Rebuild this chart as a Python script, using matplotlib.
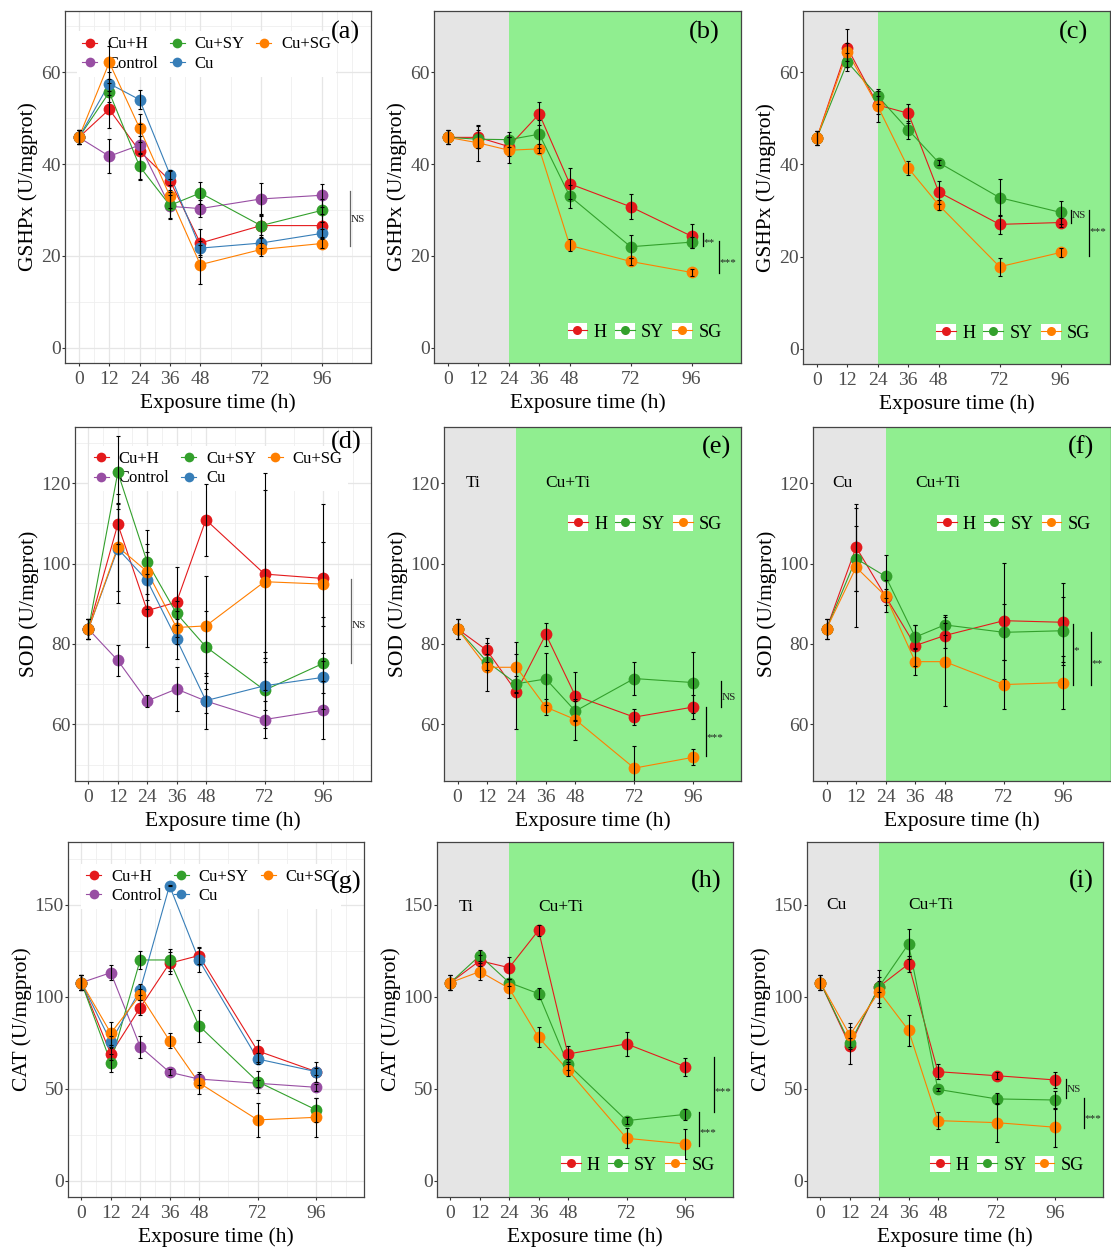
import matplotlib
matplotlib.use('Agg')
import matplotlib.pyplot as plt
from matplotlib.legend_handler import HandlerLine2D
from matplotlib.lines import Line2D
from matplotlib.patches import Rectangle

plt.rcParams['font.family'] = ['Liberation Serif', 'DejaVu Serif']

hours = [0, 12, 24, 36, 48, 72, 96]
xticks = [0, 12, 24, 36, 48, 72, 96]
xminor = [6, 18, 30, 42, 60, 84, 102, 108]

colors = {'Cu+H': '#E41A1C', 'Cu+SY': '#33A02C', 'Cu+SG': '#FF7F00',
          'Control': '#984EA3', 'Cu': '#377EB8',
          'H': '#E41A1C', 'SY': '#33A02C', 'SG': '#FF7F00'}
five_groups = ['Cu+H', 'Control', 'Cu+SY', 'Cu', 'Cu+SG']
three_groups = ['H', 'SY', 'SG']

# ---- GSHPx ----
gshpx_a_mean = {
    'Cu+H':    [45.8, 51.9, 42.8, 36.4, 22.8, 26.6, 26.6],
    'Cu+SY':   [45.8, 55.6, 39.5, 31.0, 33.7, 26.6, 29.9],
    'Cu+SG':   [45.8, 62.1, 47.8, 33.0, 18.1, 21.4, 22.7],
    'Control': [45.8, 41.7, 44.1, 30.8, 30.3, 32.4, 33.2],
    'Cu':      [45.8, 57.5, 54.0, 37.7, 21.7, 22.8, 24.9],
}
gshpx_a_err = {
    'Cu+H':    [1.5, 4.0, 6.0, 2.0, 3.0, 2.5, 2.5],
    'Cu+SY':   [1.5, 2.0, 3.0, 3.0, 2.4, 2.0, 2.5],
    'Cu+SG':   [1.5, 3.5, 3.0, 2.5, 4.3, 1.5, 1.0],
    'Control': [1.5, 3.7, 2.0, 2.5, 1.8, 3.5, 2.5],
    'Cu':      [1.5, 2.5, 2.0, 1.0, 1.5, 1.0, 1.0],
}
gshpx_b_mean = {
    'H':  [45.8, 45.8, 43.8, 50.9, 35.7, 30.7, 24.3],
    'SY': [45.8, 45.4, 45.3, 46.5, 33.0, 22.0, 23.0],
    'SG': [45.8, 44.6, 43.0, 43.3, 22.3, 18.8, 16.4],
}
gshpx_b_err = {
    'H':  [1.5, 2.4, 2.0, 2.5, 3.4, 2.7, 2.6],
    'SY': [1.5, 2.0, 1.7, 3.0, 2.5, 2.5, 1.2],
    'SG': [1.5, 4.0, 2.8, 1.0, 1.3, 0.8, 0.7],
}
gshpx_c_mean = {
    'H':  [45.8, 65.3, 52.9, 51.1, 34.0, 27.0, 27.4],
    'SY': [45.8, 62.2, 54.8, 47.5, 40.4, 32.8, 29.6],
    'SG': [45.8, 64.4, 52.6, 39.2, 31.2, 17.8, 20.9],
}
gshpx_c_err = {
    'H':  [1.5, 4.1, 2.0, 2.0, 2.5, 2.0, 1.0],
    'SY': [1.5, 2.0, 1.6, 2.0, 0.5, 4.0, 2.5],
    'SG': [1.5, 2.0, 3.3, 1.5, 1.0, 2.0, 1.0],
}

# ---- SOD ----
sod_d_mean = {
    'Cu+H':    [83.7, 109.8, 88.3, 90.4, 110.9, 97.4, 96.3],
    'Cu+SY':   [83.7, 122.7, 100.4, 87.6, 79.3, 68.5, 75.2],
    'Cu+SG':   [83.7, 104.2, 98.0, 84.1, 84.5, 95.5, 94.9],
    'Control': [83.7, 75.9, 65.8, 68.8, 65.8, 61.2, 63.5],
    'Cu':      [83.7, 103.7, 95.8, 81.2, 65.9, 69.6, 71.7],
}
sod_d_err = {
    'Cu+H':    [2.5, 5.0, 9.0, 8.7, 9.0, 21.0, 18.5],
    'Cu+SY':   [2.5, 9.0, 8.0, 3.0, 9.0, 9.5, 11.5],
    'Cu+SG':   [2.5, 11.0, 7.0, 4.0, 12.5, 27.0, 10.5],
    'Control': [2.5, 3.8, 1.5, 5.5, 3.0, 4.7, 7.2],
    'Cu':      [2.5, 13.6, 7.0, 5.0, 7.0, 6.0, 4.0],
}
sod_e_mean = {
    'H':  [83.75, 78.4, 68.1, 82.4, 67.1, 61.8, 64.3],
    'SY': [83.75, 75.6, 70.1, 71.3, 63.3, 71.4, 70.4],
    'SG': [83.75, 74.2, 74.2, 64.3, 61.2, 49.1, 51.8],
}
sod_e_err = {
    'H':  [2.5, 3.0, 9.3, 2.8, 6.0, 2.0, 3.0],
    'SY': [2.5, 2.0, 2.0, 6.5, 2.5, 4.0, 7.5],
    'SG': [2.5, 6.0, 6.4, 2.0, 5.0, 5.5, 2.0],
}
sod_f_mean = {
    'H':  [83.75, 104.1, 91.8, 79.6, 82.1, 85.8, 85.4],
    'SY': [83.75, 101.25, 96.8, 81.7, 84.75, 82.9, 83.3],
    'SG': [83.75, 99.1, 91.9, 75.6, 75.6, 69.9, 70.4],
}
sod_f_err = {
    'H':  [2.5, 10.8, 2.0, 5.0, 3.0, 14.4, 9.9],
    'SY': [2.5, 8.0, 5.3, 3.0, 2.5, 7.0, 8.5],
    'SG': [2.5, 14.8, 4.0, 3.3, 11.0, 6.2, 6.5],
}

# ---- CAT ----
cat_g_mean = {
    'Cu+H':    [107.8, 69.0, 94.2, 118.3, 122.5, 70.7, 59.4],
    'Cu+SY':   [107.8, 64.3, 120.1, 120.1, 84.4, 54.0, 38.6],
    'Cu+SG':   [107.8, 80.3, 101.1, 76.3, 53.4, 33.2, 34.6],
    'Control': [107.8, 113.2, 73.0, 59.1, 55.4, 53.1, 50.9],
    'Cu':      [107.8, 75.7, 103.8, 160.5, 120.1, 66.3, 59.4],
}
cat_g_err = {
    'Cu+H':    [4.0, 3.0, 4.0, 6.0, 4.8, 5.9, 5.5],
    'Cu+SY':   [4.0, 4.9, 5.0, 6.0, 8.7, 6.0, 6.5],
    'Cu+SG':   [4.0, 6.3, 3.0, 4.0, 6.0, 9.1, 10.5],
    'Control': [4.0, 4.0, 6.0, 1.5, 3.0, 2.0, 2.0],
    'Cu':      [4.0, 3.0, 3.0, 0.3, 6.5, 3.0, 2.0],
}
cat_h_mean = {
    'H':  [107.8, 119.7, 115.9, 136.2, 69.0, 74.5, 62.1],
    'SY': [107.8, 122.5, 107.8, 101.8, 63.4, 32.8, 36.2],
    'SG': [107.8, 113.8, 104.7, 78.1, 60.3, 23.2, 20.1],
}
cat_h_err = {
    'H':  [4.0, 3.0, 6.0, 3.0, 4.5, 6.5, 5.0],
    'SY': [4.0, 3.0, 2.0, 3.0, 3.0, 2.0, 3.0],
    'SG': [4.0, 4.6, 5.0, 5.5, 3.5, 5.5, 8.0],
}
cat_i_mean = {
    'H':  [107.8, 73.6, 105.6, 117.9, 59.4, 57.2, 54.9],
    'SY': [107.8, 74.8, 105.6, 128.8, 49.8, 44.6, 44.0],
    'SG': [107.8, 79.3, 102.9, 81.9, 32.8, 31.7, 29.2],
}
cat_i_err = {
    'H':  [4.0, 10.2, 3.0, 4.5, 4.0, 2.0, 4.5],
    'SY': [4.0, 3.0, 9.0, 8.0, 1.0, 3.0, 5.0],
    'SG': [4.0, 6.4, 8.2, 8.3, 4.5, 10.6, 10.5],
}

# significance brackets: x, y from, y to, label, label y
sig_a = [(107.0, 22.1, 34.1, 'NS', 27.9)]
sig_b = [(100.4, 22.1, 25.0, '**', 23.0), (106.8, 16.2, 23.2, '***', 18.6)]
sig_c = [(100.1, 27.4, 30.1, 'NS', 28.9), (107.2, 20.1, 30.1, '***', 25.5)]
sig_d = [(107.5, 75.2, 96.2, 'NS', 84.7)]
sig_e = [(107.3, 64.4, 70.8, 'NS', 66.6), (101.2, 52.0, 64.2, '***', 56.8)]
sig_f = [(100.1, 69.9, 85.0, '*', 78.3), (107.4, 69.9, 83.1, '**', 75.0)]
sig_h = [(107.6, 37.3, 67.6, '***', 48.3), (101.5, 19.2, 37.3, '***', 26.2)]
sig_i = [(100.4, 45.3, 55.3, 'NS', 49.6), (107.6, 28.6, 44.9, '***', 33.9)]

W, H = 1111, 1247


class BoxedKey(HandlerLine2D):
    def create_artists(self, legend, orig_handle, xdescent, ydescent,
                       width, height, fontsize, trans):
        arts = super().create_artists(legend, orig_handle, xdescent, ydescent,
                                      width, height, fontsize, trans)
        box = Rectangle((-xdescent, -ydescent), width, height,
                        facecolor='white', edgecolor='none', transform=trans)
        return [box] + arts


def make_ax(fig, left, top, right, bottom):
    return fig.add_axes([left / W, 1 - bottom / H, (right - left) / W, (bottom - top) / H])


def panel(ax, means, errs, groups, ylim, yticks, yminor, ylabel, tag, tag_xy,
          shaded=False, sig=(), phase=None, leg=None):
    ax.set_xlim(-5.5, 115.5)
    ax.set_ylim(*ylim)
    if shaded:
        ax.axvspan(-10, 24, facecolor='#E5E5E5', edgecolor='none', zorder=0.2)
        ax.axvspan(24, 130, facecolor='#90EE90', edgecolor='none', zorder=0.2)
    else:
        for x in xminor:
            ax.axvline(x, color='#EFEFEF', lw=0.6, zorder=0.1)
        for y in yminor:
            ax.axhline(y, color='#EFEFEF', lw=0.6, zorder=0.1)
        for x in xticks:
            ax.axvline(x, color='#E6E6E6', lw=0.9, zorder=0.1)
        for y in yticks:
            ax.axhline(y, color='#E6E6E6', lw=0.9, zorder=0.1)

    for g in groups:
        ax.plot(hours, means[g], color=colors[g], lw=0.8, zorder=2)
    for g in groups:
        ax.plot(hours, means[g], 'o', color=colors[g], ms=8.5, mew=0, zorder=3)
    for g in groups:
        ax.errorbar(hours, means[g], yerr=errs[g], fmt='none', ecolor='black',
                    elinewidth=0.8, capsize=1.3, capthick=0.8, zorder=4)

    ax.set_xticks(xticks)
    ax.set_yticks(yticks)
    ax.tick_params(axis='both', labelsize=14, labelcolor='#4D4D4D',
                   color='#333333', width=0.8)
    ax.tick_params(axis='x', length=2.5, pad=3)
    ax.tick_params(axis='y', length=2, pad=1)
    for s in ax.spines.values():
        s.set_color('#444444')
        s.set_linewidth(0.9)
    ax.set_xlabel('Exposure time (h)', fontsize=15.5, labelpad=3.8)
    ax.set_ylabel(ylabel, fontsize=15.5, labelpad=2)

    ax.text(tag_xy[0], tag_xy[1], tag, transform=ax.transAxes, fontsize=19,
            ha='center', va='center', zorder=6)

    line_col = '#666666' if not shaded else 'black'
    for x, y0, y1, lab, ly in sig:
        ax.plot([x, x], [y0, y1], color=line_col, lw=0.9, zorder=5)
        ax.text(x + 0.3, ly, lab, fontsize=8, ha='left', va='center',
                color='#222222', zorder=5)

    if phase:
        ax.text(6.5, phase[1], phase[0], fontsize=12.5, ha='center', va='center', zorder=5)
        ax.text(45, phase[1], 'Cu+Ti', fontsize=12.5, ha='center', va='center', zorder=5)

    handles = [Line2D([], [], color=colors[g], marker='o', lw=0.8,
                      ms=7 if not shaded else 6.5, mew=0) for g in groups]
    if not shaded:
        lg = ax.legend(handles, groups, loc='upper left', bbox_to_anchor=leg,
                       ncol=3, fontsize=12, frameon=True, framealpha=1,
                       edgecolor='none', facecolor='white', borderpad=0.3,
                       handlelength=0.9, handletextpad=0.6, columnspacing=0.7,
                       labelspacing=0.2, borderaxespad=0, fancybox=False)
        lg.set_zorder(1.5)
    else:
        lg = ax.legend(handles, groups, loc=leg[0], bbox_to_anchor=leg[1],
                       ncol=3, fontsize=13, frameon=False, borderpad=0.2,
                       handlelength=1.1, handleheight=1.0, handletextpad=0.35,
                       columnspacing=0.45, borderaxespad=0,
                       handler_map={Line2D: BoxedKey()})
        lg.set_zorder(5)


fig = plt.figure(figsize=(W / 100, H / 100), dpi=100)

gs_lim = (-3.3, 73.3)
gs_ticks = [0, 20, 40, 60]
gs_minor = [10, 30, 50, 70]
sod_lim = (45.9, 134.0)
sod_ticks = [60, 80, 100, 120]
sod_minor = [50, 70, 90, 110, 130]
cat_lim = (-8.7, 184.2)
cat_ticks = [0, 50, 100, 150]
cat_minor = [25, 75, 125, 175]

ax = make_ax(fig, 65, 11, 371, 363)
panel(ax, gshpx_a_mean, gshpx_a_err, five_groups, gs_lim, gs_ticks, gs_minor,
      'GSHPx (U/mgprot)', '(a)', (0.915, 0.94), sig=sig_a, leg=(0.04, 0.942))
ax = make_ax(fig, 434, 11, 741, 363)
panel(ax, gshpx_b_mean, gshpx_b_err, three_groups, gs_lim, gs_ticks, gs_minor,
      'GSHPx (U/mgprot)', '(b)', (0.88, 0.94), shaded=True, sig=sig_b,
      leg=('lower right', (0.949, 0.052)))
ax = make_ax(fig, 803, 11, 1110, 364)
panel(ax, gshpx_c_mean, gshpx_c_err, three_groups, gs_lim, gs_ticks, gs_minor,
      'GSHPx (U/mgprot)', '(c)', (0.88, 0.94), shaded=True, sig=sig_c,
      leg=('lower right', (0.947, 0.052)))

ax = make_ax(fig, 75, 427, 371, 781)
panel(ax, sod_d_mean, sod_d_err, five_groups, sod_lim, sod_ticks, sod_minor,
      'SOD (U/mgprot)', '(d)', (0.918, 0.955), sig=sig_d, leg=(0.046, 0.946))
ax = make_ax(fig, 444, 427, 741, 781)
panel(ax, sod_e_mean, sod_e_err, three_groups, sod_lim, sod_ticks, sod_minor,
      'SOD (U/mgprot)', '(e)', (0.916, 0.943), shaded=True, sig=sig_e,
      phase=('Ti', 120), leg=('upper right', (0.949, 0.762)))
ax = make_ax(fig, 813, 427, 1111, 781)
panel(ax, sod_f_mean, sod_f_err, three_groups, sod_lim, sod_ticks, sod_minor,
      'SOD (U/mgprot)', '(f)', (0.90, 0.943), shaded=True, sig=sig_f,
      phase=('Cu', 120), leg=('upper right', (0.945, 0.762)))

ax = make_ax(fig, 68, 842, 364, 1197)
panel(ax, cat_g_mean, cat_g_err, five_groups, cat_lim, cat_ticks, cat_minor,
      'CAT (U/mgprot)', '(g)', (0.94, 0.887), leg=(0.045, 0.939))
ax = make_ax(fig, 437, 842, 733, 1197)
panel(ax, cat_h_mean, cat_h_err, three_groups, cat_lim, cat_ticks, cat_minor,
      'CAT (U/mgprot)', '(h)', (0.909, 0.89), shaded=True, sig=sig_h,
      phase=('Ti', 149), leg=('lower right', (0.951, 0.055)))
ax = make_ax(fig, 807, 842, 1103, 1197)
panel(ax, cat_i_mean, cat_i_err, three_groups, cat_lim, cat_ticks, cat_minor,
      'CAT (U/mgprot)', '(i)', (0.926, 0.89), shaded=True, sig=sig_i,
      phase=('Cu', 150), leg=('lower right', (0.948, 0.055)))

fig.savefig('out.png', dpi=100)
